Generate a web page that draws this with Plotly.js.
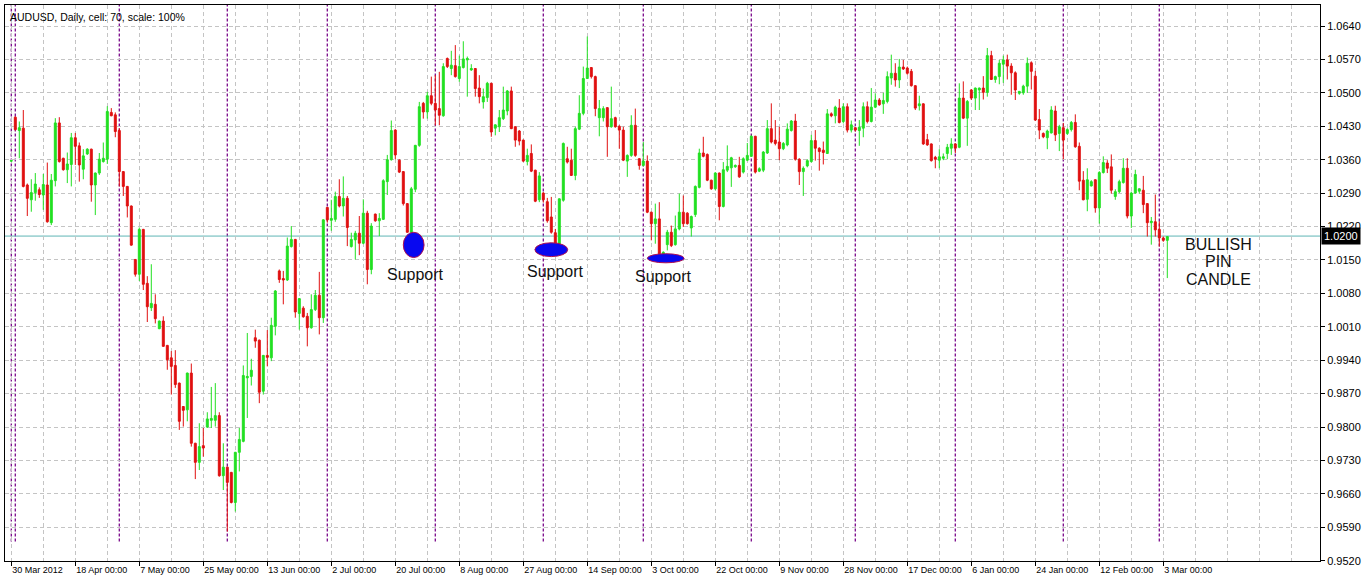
<!DOCTYPE html>
<html>
<head>
<meta charset="utf-8">
<script src="https://cdn.plot.ly/plotly-3.0.1.min.js"></script>
<style>
  html, body { margin: 0; padding: 0; background: #ffffff; }
  #chart { width: 1366px; height: 582px; }
</style>
</head>
<body>
<div id="chart"></div>
<script>
// AUDUSD daily candles, 30 Mar 2012 .. 4 Mar 2013 (one entry per trading day, incl. Sunday bars)
const open = [
1.0357,1.0449,1.0421,1.0426,1.0307,1.0276,1.0291,1.0297,1.0286,1.0307,
1.0228,1.0316,1.0437,1.0363,1.0339,1.0350,1.0406,1.0389,1.0340,1.0372,
1.0382,1.0307,1.0332,1.0356,1.0361,1.0459,1.0454,1.0421,1.0335,1.0304,
1.0263,1.0151,1.0120,1.0214,1.0101,1.0050,1.0057,1.0006,1.0022,0.9971,
0.9945,0.9929,0.9892,0.9843,0.9836,0.9913,0.9766,0.9726,0.9761,0.9800,
0.9814,0.9814,0.9824,0.9698,0.9716,0.9705,0.9642,0.9747,0.9770,0.9903,
0.9906,0.9987,0.9982,0.9875,0.9950,0.9945,1.0011,1.0127,1.0111,1.0108,
1.0178,1.0193,1.0038,1.0049,1.0032,1.0008,1.0046,1.0076,1.0029,1.0260,
1.0233,1.0235,1.0283,1.0263,1.0279,1.0178,1.0192,1.0206,1.0185,1.0248,
1.0130,1.0246,1.0232,1.0235,1.0314,1.0360,1.0422,1.0359,1.0335,1.0268,
1.0208,1.0298,1.0390,1.0478,1.0460,1.0494,1.0478,1.0467,1.0452,1.0572,
1.0551,1.0557,1.0530,1.0553,1.0569,1.0548,1.0551,1.0510,1.0481,1.0490,
1.0520,1.0426,1.0429,1.0446,1.0462,1.0504,1.0429,1.0420,1.0401,1.0356,
1.0373,1.0338,1.0276,1.0290,1.0272,1.0240,1.0207,1.0168,1.0275,1.0362,
1.0359,1.0327,1.0424,1.0457,1.0530,1.0553,1.0534,1.0448,1.0448,1.0469,
1.0429,1.0448,1.0430,1.0422,1.0357,1.0369,1.0432,1.0362,1.0348,1.0357,
1.0250,1.0226,1.0236,1.0161,1.0182,1.0208,1.0182,1.0215,1.0250,1.0248,
1.0217,1.0245,1.0302,1.0374,1.0371,1.0317,1.0299,1.0332,1.0262,1.0338,
1.0343,1.0345,1.0348,1.0334,1.0359,1.0367,1.0409,1.0336,1.0338,1.0374,
1.0425,1.0401,1.0397,1.0383,1.0391,1.0421,1.0441,1.0361,1.0335,1.0347,
1.0356,1.0400,1.0384,1.0380,1.0373,1.0456,1.0452,1.0468,1.0440,1.0471,
1.0422,1.0427,1.0421,1.0426,1.0471,1.0440,1.0470,1.0485,1.0477,1.0482,
1.0531,1.0541,1.0527,1.0554,1.0552,1.0545,1.0515,1.0473,1.0477,1.0402,
1.0393,1.0365,1.0359,1.0363,1.0373,1.0384,1.0393,1.0386,1.0489,1.0447,
1.0506,1.0489,1.0506,1.0510,1.0501,1.0578,1.0528,1.0534,1.0560,1.0569,
1.0556,1.0542,1.0499,1.0500,1.0514,1.0563,1.0535,1.0444,1.0415,1.0406,
1.0416,1.0462,1.0415,1.0427,1.0415,1.0423,1.0438,1.0388,1.0317,1.0277,
1.0305,1.0318,1.0259,1.0333,1.0353,1.0345,1.0283,1.0293,1.0312,1.0342,
1.0242,1.0290,1.0294,1.0296,1.0268,1.0228,1.0230,1.0214,1.0196,1.0191
];
const high = [
1.0359,1.0451,1.0440,1.0464,1.0310,1.0319,1.0332,1.0302,1.0330,1.0354,
1.0330,1.0447,1.0449,1.0364,1.0375,1.0416,1.0416,1.0396,1.0382,1.0384,
1.0383,1.0333,1.0374,1.0396,1.0472,1.0468,1.0459,1.0426,1.0336,1.0305,
1.0264,1.0152,1.0218,1.0215,1.0116,1.0141,1.0078,1.0023,1.0032,0.9972,
0.9959,0.9961,0.9893,0.9844,0.9914,0.9933,0.9767,0.9808,0.9798,0.9831,
0.9884,0.9892,0.9831,0.9766,0.9717,0.9706,0.9748,0.9798,0.9929,0.9997,
0.9943,1.0004,0.9983,0.9951,1.0003,1.0029,1.0087,1.0130,1.0127,1.0197,
1.0221,1.0194,1.0070,1.0053,1.0039,1.0078,1.0087,1.0125,1.0235,1.0261,
1.0276,1.0293,1.0319,1.0325,1.0284,1.0207,1.0211,1.0242,1.0277,1.0253,
1.0227,1.0247,1.0248,1.0319,1.0370,1.0442,1.0424,1.0361,1.0336,1.0269,
1.0303,1.0391,1.0481,1.0481,1.0502,1.0534,1.0537,1.0544,1.0562,1.0574,
1.0588,1.0600,1.0578,1.0608,1.0576,1.0560,1.0552,1.0537,1.0509,1.0523,
1.0521,1.0434,1.0464,1.0513,1.0506,1.0513,1.0430,1.0422,1.0402,1.0383,
1.0392,1.0339,1.0334,1.0292,1.0280,1.0282,1.0215,1.0279,1.0396,1.0387,
1.0383,1.0429,1.0495,1.0555,1.0618,1.0554,1.0536,1.0485,1.0472,1.0470,
1.0513,1.0450,1.0432,1.0429,1.0371,1.0453,1.0467,1.0363,1.0397,1.0369,
1.0251,1.0268,1.0271,1.0168,1.0213,1.0222,1.0243,1.0289,1.0285,1.0250,
1.0243,1.0306,1.0383,1.0408,1.0373,1.0318,1.0334,1.0333,1.0355,1.0390,
1.0366,1.0350,1.0366,1.0365,1.0395,1.0411,1.0410,1.0344,1.0378,1.0443,
1.0478,1.0443,1.0429,1.0397,1.0436,1.0443,1.0456,1.0363,1.0346,1.0361,
1.0412,1.0422,1.0386,1.0398,1.0466,1.0459,1.0473,1.0487,1.0478,1.0478,
1.0442,1.0428,1.0443,1.0480,1.0482,1.0510,1.0499,1.0489,1.0500,1.0545,
1.0580,1.0562,1.0571,1.0569,1.0555,1.0550,1.0516,1.0494,1.0478,1.0414,
1.0394,1.0368,1.0382,1.0373,1.0393,1.0405,1.0394,1.0520,1.0524,1.0485,
1.0508,1.0511,1.0511,1.0535,1.0594,1.0588,1.0536,1.0569,1.0578,1.0580,
1.0562,1.0545,1.0504,1.0517,1.0574,1.0566,1.0546,1.0466,1.0417,1.0423,
1.0472,1.0473,1.0433,1.0437,1.0426,1.0441,1.0455,1.0396,1.0336,1.0342,
1.0317,1.0319,1.0336,1.0367,1.0359,1.0371,1.0298,1.0318,1.0363,1.0363,
1.0293,1.0339,1.0300,1.0326,1.0269,1.0240,1.0287,1.0231,1.0199,1.0200
];
const low = [
1.0355,1.0421,1.0363,1.0302,1.0242,1.0251,1.0274,1.0280,1.0255,1.0228,
1.0223,1.0304,1.0354,1.0337,1.0311,1.0304,1.0349,1.0314,1.0319,1.0370,
1.0272,1.0244,1.0328,1.0354,1.0351,1.0451,1.0407,1.0304,1.0284,1.0239,
1.0180,1.0115,1.0106,1.0087,1.0020,1.0043,1.0017,1.0005,0.9968,0.9920,
0.9868,0.9882,0.9794,0.9801,0.9812,0.9759,0.9691,0.9710,0.9738,0.9798,
0.9798,0.9801,0.9696,0.9668,0.9581,0.9640,0.9623,0.9707,0.9768,0.9819,
0.9887,0.9966,0.9850,0.9868,0.9927,0.9938,0.9992,1.0102,1.0057,1.0106,
1.0176,1.0029,1.0004,1.0029,0.9969,1.0006,1.0043,0.9994,1.0018,1.0228,
1.0211,1.0230,1.0260,1.0241,1.0179,1.0176,1.0151,1.0160,1.0183,1.0099,
1.0120,1.0230,1.0200,1.0234,1.0286,1.0358,1.0361,1.0332,1.0264,1.0207,
1.0165,1.0292,1.0387,1.0446,1.0446,1.0474,1.0432,1.0432,1.0450,1.0552,
1.0537,1.0532,1.0523,1.0551,1.0492,1.0546,1.0492,1.0478,1.0467,1.0481,
1.0408,1.0411,1.0418,1.0443,1.0453,1.0424,1.0387,1.0390,1.0355,1.0348,
1.0334,1.0271,1.0271,1.0270,1.0228,1.0205,1.0166,1.0160,1.0272,1.0352,
1.0326,1.0317,1.0422,1.0453,1.0529,1.0530,1.0451,1.0409,1.0440,1.0366,
1.0427,1.0427,1.0383,1.0357,1.0324,1.0366,1.0366,1.0339,1.0346,1.0248,
1.0191,1.0184,1.0159,1.0158,1.0170,1.0177,1.0180,1.0212,1.0219,1.0224,
1.0199,1.0240,1.0300,1.0365,1.0315,1.0297,1.0296,1.0233,1.0260,1.0334,
1.0303,1.0343,1.0322,1.0331,1.0357,1.0366,1.0331,1.0334,1.0334,1.0372,
1.0394,1.0390,1.0359,1.0380,1.0388,1.0419,1.0358,1.0307,1.0284,1.0344,
1.0354,1.0358,1.0337,1.0350,1.0372,1.0449,1.0436,1.0436,1.0436,1.0417,
1.0417,1.0419,1.0389,1.0407,1.0436,1.0438,1.0468,1.0473,1.0456,1.0478,
1.0517,1.0513,1.0510,1.0548,1.0538,1.0513,1.0464,1.0463,1.0391,1.0389,
1.0356,1.0342,1.0342,1.0359,1.0361,1.0370,1.0374,1.0384,1.0445,1.0389,
1.0485,1.0464,1.0464,1.0486,1.0492,1.0527,1.0521,1.0518,1.0521,1.0528,
1.0496,1.0485,1.0496,1.0496,1.0500,1.0507,1.0441,1.0403,1.0405,1.0382,
1.0415,1.0399,1.0378,1.0361,1.0412,1.0419,1.0385,1.0296,1.0275,1.0252,
1.0304,1.0249,1.0226,1.0331,1.0332,1.0289,1.0276,1.0290,1.0310,1.0237,
1.0217,1.0289,1.0289,1.0248,1.0199,1.0182,1.0199,1.0178,1.0188,1.0112
];
const close = [
1.0358,1.0423,1.0427,1.0304,1.0279,1.0291,1.0309,1.0287,1.0308,1.0230,
1.0317,1.0437,1.0356,1.0339,1.0351,1.0406,1.0388,1.0349,1.0368,1.0382,
1.0307,1.0332,1.0361,1.0363,1.0461,1.0452,1.0419,1.0335,1.0304,1.0263,
1.0181,1.0120,1.0214,1.0099,1.0052,1.0059,1.0027,1.0022,0.9969,0.9941,
0.9927,0.9889,0.9812,0.9835,0.9913,0.9766,0.9726,0.9759,0.9756,0.9817,
0.9818,0.9824,0.9698,0.9716,0.9684,0.9642,0.9747,0.9774,0.9908,0.9906,
0.9919,0.9980,0.9873,0.9950,0.9946,1.0013,1.0085,1.0109,1.0108,1.0179,
1.0193,1.0041,1.0069,1.0031,1.0008,1.0046,1.0076,1.0029,1.0234,1.0234,
1.0237,1.0283,1.0263,1.0279,1.0218,1.0193,1.0206,1.0185,1.0248,1.0130,
1.0221,1.0232,1.0237,1.0316,1.0360,1.0421,1.0370,1.0334,1.0268,1.0208,
1.0299,1.0390,1.0471,1.0460,1.0494,1.0478,1.0464,1.0453,1.0555,1.0555,
1.0558,1.0534,1.0555,1.0571,1.0572,1.0551,1.0509,1.0492,1.0492,1.0520,
1.0418,1.0433,1.0448,1.0464,1.0504,1.0425,1.0401,1.0399,1.0357,1.0369,
1.0336,1.0273,1.0326,1.0276,1.0232,1.0208,1.0184,1.0278,1.0394,1.0355,
1.0327,1.0425,1.0457,1.0530,1.0552,1.0534,1.0467,1.0467,1.0467,1.0429,
1.0446,1.0429,1.0422,1.0359,1.0369,1.0432,1.0369,1.0348,1.0357,1.0250,
1.0226,1.0236,1.0163,1.0166,1.0208,1.0180,1.0215,1.0250,1.0226,1.0226,
1.0241,1.0304,1.0374,1.0367,1.0317,1.0299,1.0332,1.0262,1.0339,1.0346,
1.0364,1.0348,1.0324,1.0362,1.0369,1.0409,1.0334,1.0341,1.0376,1.0425,
1.0397,1.0394,1.0383,1.0394,1.0424,1.0441,1.0361,1.0335,1.0342,1.0358,
1.0400,1.0384,1.0377,1.0375,1.0456,1.0452,1.0470,1.0438,1.0471,1.0422,
1.0433,1.0422,1.0428,1.0471,1.0440,1.0470,1.0485,1.0475,1.0484,1.0534,
1.0541,1.0527,1.0554,1.0550,1.0541,1.0515,1.0468,1.0477,1.0393,1.0391,
1.0358,1.0361,1.0366,1.0366,1.0386,1.0393,1.0384,1.0489,1.0447,1.0482,
1.0489,1.0510,1.0510,1.0501,1.0578,1.0528,1.0534,1.0562,1.0569,1.0556,
1.0542,1.0506,1.0503,1.0514,1.0562,1.0545,1.0443,1.0422,1.0408,1.0420,
1.0464,1.0412,1.0429,1.0401,1.0423,1.0438,1.0387,1.0315,1.0276,1.0318,
1.0314,1.0259,1.0333,1.0354,1.0342,1.0296,1.0293,1.0314,1.0342,1.0242,
1.0290,1.0329,1.0299,1.0266,1.0228,1.0231,1.0213,1.0196,1.0191,1.0199
];

// time-axis labels (bar index -> label)
const tickIdx = [0,16,32,48,64,80,96,112,128,144,160,176,192,208,224,240,256,272,288];
const tickLabels = ["30 Mar 2012","18 Apr 00:00","7 May 00:00","25 May 00:00","13 Jun 00:00",
  "2 Jul 00:00","20 Jul 00:00","8 Aug 00:00","27 Aug 00:00","14 Sep 00:00","3 Oct 00:00",
  "22 Oct 00:00","9 Nov 00:00","28 Nov 00:00","17 Dec 00:00","6 Jan 00:00","24 Jan 00:00",
  "12 Feb 00:00","3 Mar 00:00"];
// period separators (first bar of each month)
const monthStartIdx = [0,1,27,54,79,106,133,158,185,211,236,263,287];
const priceLine = 1.0200;
const supportLabels = ["Support","Support","Support"];
const noteLines = ["BULLISH","PIN","CANDLE"];

const barIdx = open.map((_, i) => i);
const FONT = "Liberation Sans, Arial, sans-serif";
const GRID = "#c4c4c4";
const GREEN = "#22e022";
const RED = "#e01010";

const trace = {
  type: "candlestick",
  x: barIdx, open: open, high: high, low: low, close: close,
  increasing: { line: { color: GREEN, width: 1 }, fillcolor: GREEN },
  decreasing: { line: { color: RED, width: 1 }, fillcolor: RED },
  whiskerwidth: 0,
  hoverinfo: "none",
  showlegend: false
};

const shapes = [];
monthStartIdx.forEach(ix => shapes.push({
  type: "line", xref: "x", yref: "paper", x0: ix, x1: ix, y0: 0.035, y1: 1,
  line: { color: "#7a0a8a", width: 1.3, dash: "3px,2px" }, layer: "below"
}));
shapes.push({
  type: "line", xref: "paper", yref: "y", x0: 0, x1: 1, y0: priceLine, y1: priceLine,
  line: { color: "#5fb5b5", width: 1 }, layer: "below"
});
// support markers
const ellipses = [
  { x0: 98.0, x1: 103.2, y0: 1.0155, y1: 1.0208 },
  { x0: 130.9, x1: 139.1, y0: 1.0157, y1: 1.0186 },
  { x0: 159.0, x1: 168.2, y0: 1.0144, y1: 1.0163 }
];
ellipses.forEach(e => shapes.push(Object.assign({
  type: "circle", xref: "x", yref: "y", fillcolor: "#0808f0",
  line: { color: "#b01050", width: 1 }, layer: "above"
}, e)));

const annotations = [
  { xref: "paper", yref: "paper", x: 0, y: 1, xanchor: "left", yanchor: "top",
    xshift: 3, yshift: -4, showarrow: false, text: "AUDUSD, Daily, cell: 70, scale: 100%",
    font: { family: FONT, size: 10.5, color: "#000" } },
  { xref: "paper", yref: "y", x: 1, y: priceLine, xanchor: "left", yanchor: "middle",
    xshift: 1, showarrow: false, text: "1.0200", bgcolor: "#000000", borderpad: 2,
    font: { family: FONT, size: 11, color: "#ffffff" } }
];
const supportPos = [[101.05, 1.01195], [136.1, 1.01258], [163.05, 1.01153]];
supportLabels.forEach((t, k) => annotations.push({
  xref: "x", yref: "y", x: supportPos[k][0], y: supportPos[k][1], showarrow: false,
  text: t, font: { family: FONT, size: 16, color: "#111" }
}));
const notePos = [1.01834, 1.01457, 1.01086];
noteLines.forEach((t, k) => annotations.push({
  xref: "x", yref: "y", x: 301.8, y: notePos[k], showarrow: false,
  text: t, font: { family: FONT, size: 16, color: "#111" }
}));

const layout = {
  width: 1366, height: 582,
  margin: { l: 5, r: 46, t: 5, b: 21, pad: 0 },
  paper_bgcolor: "#ffffff", plot_bgcolor: "#ffffff",
  font: { family: FONT, color: "#000" },
  showlegend: false,
  hovermode: false,
  xaxis: {
    type: "linear", range: [-1.575, 327.175],
    tickmode: "array", tickvals: tickIdx, ticktext: tickLabels,
    ticks: "outside", ticklen: 4, tickcolor: "#000", tickwidth: 1,
    ticklabelposition: "outside right",
    tickfont: { family: FONT, size: 9, color: "#000" },
    showgrid: true, gridcolor: GRID, griddash: "4px,3px", gridwidth: 1,
    minor: { tickmode: "linear", tick0: 0, dtick: 8, showgrid: true,
             gridcolor: GRID, griddash: "4px,3px", gridwidth: 1, ticks: "" },
    showline: true, mirror: true, linecolor: "#000", linewidth: 1,
    zeroline: false, rangeslider: { visible: false }, fixedrange: true
  },
  yaxis: {
    side: "right", range: [0.95194, 1.06840],
    tickmode: "linear", tick0: 0.952, dtick: 0.007, tickformat: ".4f",
    ticks: "outside", ticklen: 4, tickcolor: "#000", tickwidth: 1,
    tickfont: { family: FONT, size: 11, color: "#000" },
    showgrid: true, gridcolor: GRID, griddash: "4px,3px", gridwidth: 1,
    showline: true, mirror: true, linecolor: "#000", linewidth: 1,
    zeroline: false, fixedrange: true
  },
  shapes: shapes,
  annotations: annotations
};

Plotly.newPlot("chart", [trace], layout, { staticPlot: true, displayModeBar: false });
</script>
</body>
</html>
